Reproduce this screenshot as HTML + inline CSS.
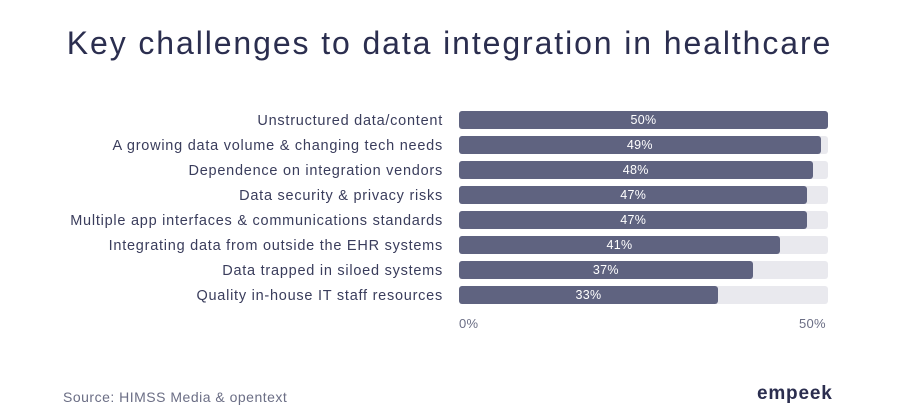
<!DOCTYPE html>
<html><head><meta charset="utf-8">
<style>
body{margin:0;width:899px;height:419px;background:#fff;font-family:"Liberation Sans",sans-serif;position:relative;overflow:hidden}
.title{position:absolute;left:0;width:899px;top:25px;text-align:center;font-size:32px;letter-spacing:1.9px;color:#2b2e4f;}
.lbl{position:absolute;right:456px;font-size:14.5px;letter-spacing:0.75px;color:#3a3d5c;white-space:nowrap;line-height:18px;top:0}
.track{position:absolute;left:459px;width:369px;height:18px;background:#e9e9ee;border-radius:3px}
.bar{position:absolute;left:0;top:0;height:18px;background:#5f6380;border-radius:3px}
.val{position:absolute;top:0;line-height:18px;font-size:12.5px;letter-spacing:0.3px;color:#fff;transform:translateX(-50%)}
.tick{position:absolute;top:316px;font-size:13px;letter-spacing:0.3px;color:#6b6e85}
.src{position:absolute;left:63px;top:389px;font-size:14px;letter-spacing:0.5px;color:#6b6e85}
.logo{position:absolute;left:757px;top:383px;font-size:19px;font-weight:bold;color:#2b2e4f;letter-spacing:0.8px}
</style></head><body>
<div class="title">Key challenges to data integration in healthcare</div>
<div id="chart"></div>
<div class="tick" style="left:459px">0%</div>
<div class="tick" style="left:799px">50%</div>
<div class="src">Source: HIMSS Media &amp; opentext</div>
<div class="logo">empeek</div>
<script>
const categories=["Unstructured data/content","A growing data volume & changing tech needs","Dependence on integration vendors","Data security & privacy risks","Multiple app interfaces & communications standards","Integrating data from outside the EHR systems","Data trapped in siloed systems","Quality in-house IT staff resources"];
const values=[50,49,47.9,47.2,47.2,43.5,39.8,35.1];
const valueLabels=["50%","49%","48%","47%","47%","41%","37%","33%"];
const maxVal=50;
const chart=document.getElementById('chart');
const W=369,top0=111,step=25;
const x=v=>v/maxVal*W;
categories.forEach((c,i)=>{
  const y=top0+i*step;
  const l=document.createElement('div');l.className='lbl';l.style.top=(y+1)+'px';l.textContent=c;
  
  
  chart.appendChild(l);
  const t=document.createElement('div');t.className='track';t.style.top=y+'px';
  
  
  const b=document.createElement('div');b.className='bar';b.style.width=x(values[i])+'px';
  
  
  t.appendChild(b);
  const v=document.createElement('div');v.className='val';v.style.left=(x(values[i])/2)+'px';v.textContent=valueLabels[i];
  
  
  t.appendChild(v);
  chart.appendChild(t);
});
</script>
</body></html>
